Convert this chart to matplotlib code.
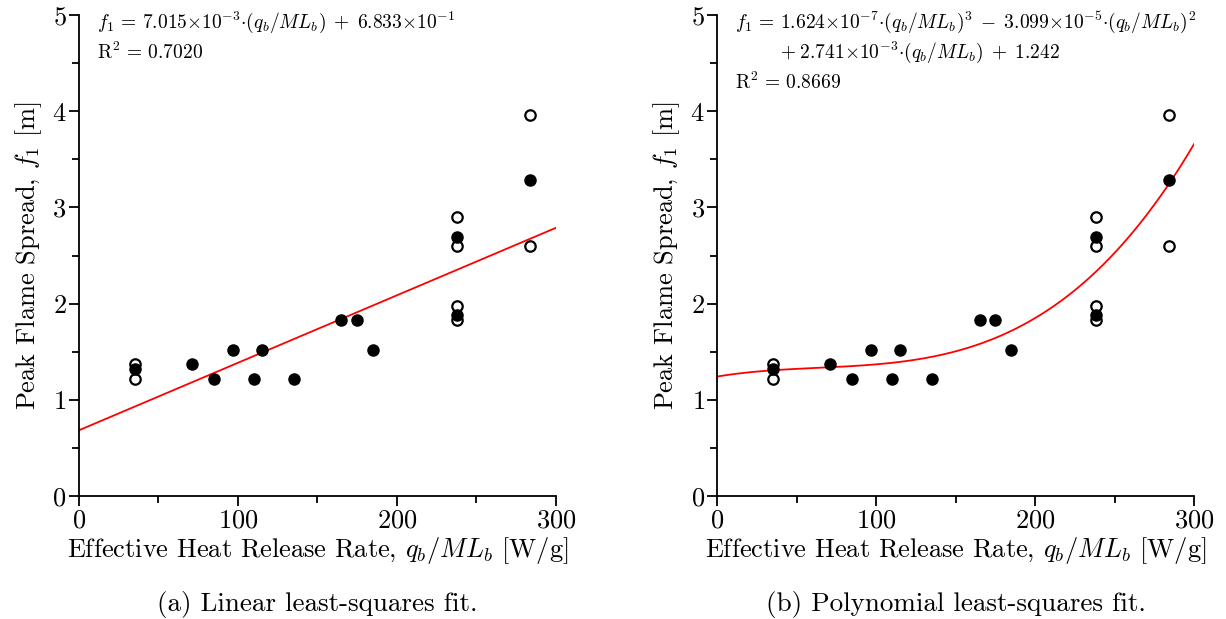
import numpy as np
import matplotlib
matplotlib.use("Agg")
import matplotlib.pyplot as plt

plt.rcParams["font.family"] = "serif"
plt.rcParams["font.serif"] = ["cmr10"]
plt.rcParams["mathtext.fontset"] = "cm"
plt.rcParams["axes.formatter.use_mathtext"] = True
plt.rcParams["axes.unicode_minus"] = False

# data
open_x = [35, 35, 238, 238, 238, 238, 284, 284]
open_y = [1.37, 1.22, 2.90, 2.60, 1.98, 1.83, 3.96, 2.60]
filled_x = [35, 71, 85, 97, 110, 115, 135, 165, 175, 185, 238, 238, 284]
filled_y = [1.32, 1.37, 1.22, 1.52, 1.22, 1.52, 1.22, 1.83, 1.83, 1.52, 2.69, 1.88, 3.28]

# fit coefficients (highest power first)
lin_coef = [7.015e-3, 6.833e-1]
poly_coef = [1.624e-7, -3.099e-5, 2.741e-3, 1.242]

xlabel = r"Effective Heat Release Rate, $q_b/ML_b$ [W/g]"
ylabel = r"Peak Flame Spread, $f_1$ [m]"

lin_text = [r"$f_1\,=\,7.015{\times}10^{-3}{\cdot}(q_b/ML_b)\;+\;6.833{\times}10^{-1}$",
            r"$\mathrm{R}^2\,=\,0.7020$"]
poly_text = [r"$f_1\,=\,1.624{\times}10^{-7}{\cdot}(q_b/ML_b)^3\;-\;3.099{\times}10^{-5}{\cdot}(q_b/ML_b)^2$",
             r"$+\;2.741{\times}10^{-3}{\cdot}(q_b/ML_b)\;+\;1.242$",
             r"$\mathrm{R}^2\,=\,0.8669$"]
captions = ["(a) Linear least-squares fit.", "(b) Polynomial least-squares fit."]

fig = plt.figure(figsize=(12.26, 6.19), dpi=100)
ax1 = fig.add_axes([0.0644, 0.1987, 0.389, 0.777])
ax2 = fig.add_axes([0.585, 0.1987, 0.389, 0.777])

xx = np.linspace(0, 300, 300)
fits = [np.polyval(lin_coef, xx), np.polyval(poly_coef, xx)]

for ax, fy, cap in zip([ax1, ax2], fits, captions):
    ax.plot(xx, fy, color="red", lw=1.3, zorder=2)
    ax.plot(open_x, open_y, "o", mfc="white", mec="black", mew=1.6, ms=7.5, zorder=3)
    ax.plot(filled_x, filled_y, "o", color="black", ms=8, zorder=4)
    ax.set_xlim(0, 300)
    ax.set_ylim(0, 5)
    ax.set_xticks([0, 100, 200, 300])
    ax.set_xticks([50, 150, 250], minor=True)
    ax.set_yticks([0, 1, 2, 3, 4, 5])
    ax.set_yticks(np.arange(0.5, 5, 1.0), minor=True)
    for s in ["top", "right"]:
        ax.spines[s].set_visible(False)
    for s in ["left", "bottom"]:
        ax.spines[s].set_linewidth(1.3)
    ax.tick_params(which="major", length=7, width=1.3, labelsize=19, pad=2)
    ax.tick_params(which="minor", length=5, width=1.3)
    ax.set_xlabel(xlabel, fontsize=19, labelpad=2)
    ax.set_ylabel(ylabel, fontsize=19, labelpad=6)
    bb = ax.get_position()
    fig.text(bb.x0 + bb.width / 2, 0.024, cap, ha="center", va="center", fontsize=19.5)

ax1.text(0.038, 0.985, lin_text[0], transform=ax1.transAxes, va="center", fontsize=14)
ax1.text(0.038, 0.923, lin_text[1], transform=ax1.transAxes, va="center", fontsize=14)
ax2.text(0.038, 0.985, poly_text[0], transform=ax2.transAxes, va="center", fontsize=14)
ax2.text(0.132, 0.923, poly_text[1], transform=ax2.transAxes, va="center", fontsize=14)
ax2.text(0.038, 0.859, poly_text[2], transform=ax2.transAxes, va="center", fontsize=14)

fig.savefig("out.png", dpi=100)
